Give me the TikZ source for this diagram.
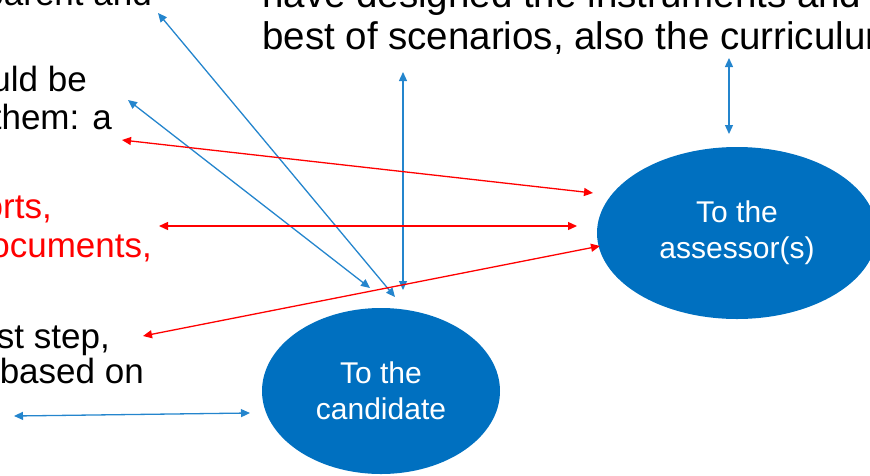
\documentclass[tikz,border=0pt]{standalone}
\usepackage{fontspec}
\setmainfont{Liberation Sans}
\usetikzlibrary{shapes.geometric,arrows.meta}
\definecolor{ovalblue}{RGB}{0,112,192}
\definecolor{lineblue}{RGB}{36,133,205}
\definecolor{linered}{RGB}{255,0,0}
\begin{document}
\begin{tikzpicture}[x=1pt,y=-1pt,
	oval/.style={ellipse,fill=ovalblue,text=white,align=center,inner sep=0pt,
		font=\fontsize{30}{36}\selectfont},
	words/.style={inner sep=0pt,font=\fontsize{35}{38}\selectfont},
	bigwords/.style={inner sep=0pt,font=\fontsize{38.5}{42}\selectfont},
	blueline/.style={lineblue,line width=1.3pt,{Triangle[length=9pt,width=8pt]}-{Triangle[length=9pt,width=8pt]}},
	redline/.style={linered,line width=1.3pt,{Triangle[length=9pt,width=8pt]}-{Triangle[length=9pt,width=8pt]}}]
	\useasboundingbox (0,0) rectangle (870,475);
	\clip (0,0) rectangle (870,475);
	% the two ovals
	\node [oval,minimum width=238pt,minimum height=166pt] (cand) at (381,391) {To the\\candidate};
	\node [oval,minimum width=280pt,minimum height=172pt] (asses) at (737,233) {To the\\assessor(s)};
	% text cut off at the left and top
	\node [words,anchor=base east] (parent) at (152,5) {parent and};
	\node [words,anchor=base east] (uldbe) at (87,91) {uld be};
	\node [words,anchor=base east] (them) at (112,129) {them: a};
	\node [words,anchor=base east,text=linered] (orts) at (52,218) {orts,};
	\node [words,anchor=base east,text=linered] (docs) at (152,257) {ocuments,};
	\node [words,anchor=base east] (ststep) at (110,348) {st step,};
	\node [words,anchor=base east] (based) at (144,383) {based on};
	\node [bigwords,anchor=base west] (have) at (262,7) {have designed the instruments and};
	\node [bigwords,anchor=base west] (best) at (262,49) {best of scenarios, also the curriculum};
	% free ends of the arrows
	\coordinate (t1) at (158,13);
	\coordinate (t2) at (128,100);
	\coordinate (t3) at (403,72);
	\coordinate (t4) at (729,58);
	\coordinate (t5) at (14,416);
	\coordinate (c1) at (395,297);
	\coordinate (c2) at (370,288);
	\coordinate (c3) at (403,290);
	\coordinate (c5) at (250,413);
	\coordinate (a4) at (729,134);
	\coordinate (l1) at (122,140);
	\coordinate (l2) at (159,226);
	\coordinate (l3) at (143,336);
	\coordinate (a1) at (593,193);
	\coordinate (a2) at (577,226);
	\coordinate (a3) at (600,246);
	% blue arrows
	\draw [blueline] (t1) -- (c1);
	\draw [blueline] (t2) -- (c2);
	\draw [blueline] (t3) -- (c3);
	\draw [blueline] (t4) -- (a4);
	\draw [blueline] (t5) -- (c5);
	% red arrows
	\draw [redline] (l1) -- (a1);
	\draw [redline] (l2) -- (a2);
	\draw [redline] (l3) -- (a3);
\end{tikzpicture}
\end{document}
